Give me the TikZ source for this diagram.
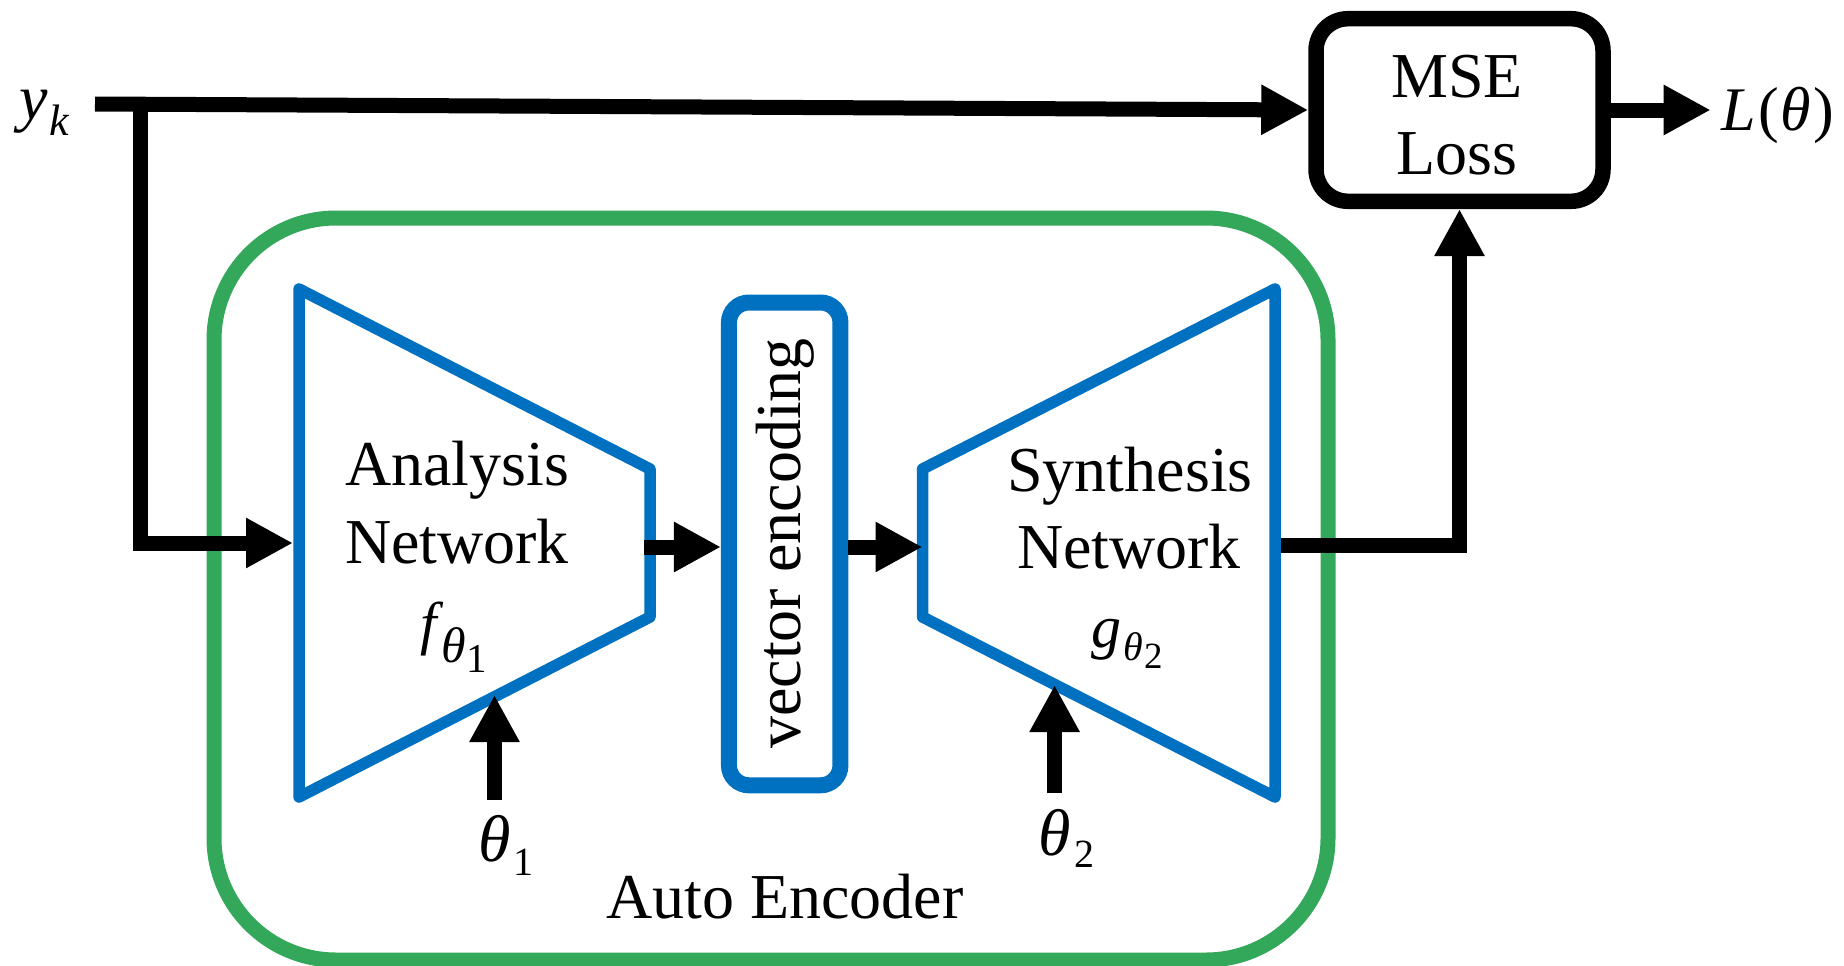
\documentclass[tikz,border=0pt]{standalone}
\usepackage{fontspec}
\setmainfont{Liberation Serif}
\usetikzlibrary{arrows.meta}
\definecolor{aeblue}{RGB}{0,112,192}
\definecolor{aegreen}{RGB}{51,168,90}
\newcommand{\itxt}[2]{{\fontsize{#1}{#1}\selectfont\itshape #2}}
\newcommand{\rtxt}[2]{{\fontsize{#1}{#1}\selectfont #2}}
\newcommand{\lowr}[2]{\raisebox{-#1}{#2}}
\tikzset{
  txt/.style={font=\fontsize{64}{77}\selectfont, inner sep=0pt, anchor=base},
  arr/.style={line width=15pt, line join=miter, -{Triangle[length=47pt,width=47pt]}},
  net/.style={draw=aeblue, line width=11.5pt, line join=round},
}
\begin{document}
\begin{tikzpicture}[x=1pt,y=-1pt]
\useasboundingbox (0,0) rectangle (1844,966);

% Auto encoder frame
\node[draw=aegreen, line width=15pt, rounded corners=122pt,
      minimum width=1114pt, minimum height=742pt, inner sep=0pt] (ae) at (771,589) {};
\node[txt] (aelabel) at (785,918.3) {Auto Encoder};

% Analysis network
\coordinate (A1) at (299,289);
\coordinate (A2) at (650,469);
\coordinate (A3) at (650,617);
\coordinate (A4) at (299,797);
\draw[net] (A1) -- (A2) -- (A3) -- (A4) -- cycle;
\node[txt] (an1) at (457,485) {Analysis};
\node[txt] (an2) at (457,563) {Network};
\node[txt] (an3) at (454,643) {\itxt{59}{f}\kern4pt\lowr{19pt}{\itxt{50}{θ}}\kern1pt\lowr{29pt}{\rtxt{41}{1}}};

% Synthesis network
\coordinate (S1) at (922.5,469);
\coordinate (S2) at (1275,289);
\coordinate (S3) at (1275,797);
\coordinate (S4) at (922.5,617);
\draw[net] (S1) -- (S2) -- (S3) -- (S4) -- cycle;
\node[txt] (sy1) at (1130,491.5) {Synthesis};
\node[txt] (sy2) at (1129,568.3) {Network};
\node[txt] (sy3) at (1127,647) {\itxt{60}{g}\kern2pt\lowr{13pt}{\itxt{40}{θ}}\kern1pt\lowr{21pt}{\rtxt{37}{2}}};

% vector encoding
\node[draw=aeblue, line width=16pt, rounded corners=20pt,
      minimum width=111.5pt, minimum height=482.8pt, inner sep=0pt] (venc) at (784.7,543.9) {};
\node[txt, rotate=90] (venctext) at (800,543.5) {vector encoding};

% MSE loss
\node[draw=black, line width=15.5pt, rounded corners=32pt,
      minimum width=287pt, minimum height=182.6pt, inner sep=0pt] (mse) at (1459.5,110) {};
\node[txt] (mse1) at (1457,97.3) {MSE};
\node[txt] (mse2) at (1457,174) {Loss};

% labels
\node[txt] (yk) at (44,119) {\itxt{64}{y}\kern2pt\lowr{16pt}{\itxt{44}{k}}};
\node[txt] (ltheta) at (1778,130) {\itxt{62}{L}\kern3pt\rtxt{62}{(}\kern1pt\itxt{62}{θ}\kern3pt\rtxt{62}{)}};
\node[txt] (th1) at (506,861) {\itxt{66}{θ}\kern3pt\lowr{14pt}{\rtxt{40}{1}}};
\node[txt] (th2) at (1066.5,855) {\itxt{66}{θ}\kern3pt\lowr{12pt}{\rtxt{40}{2}}};

% connector coordinates
\coordinate (ykstart) at (95,104);
\coordinate (br) at (140.5,104);
\coordinate (brc) at (140.5,543);
\coordinate (ain) at (293,543);
\coordinate (aout) at (644,547);
\coordinate (sin) at (922.5,547);
\coordinate (synout) at (1281,545);
\coordinate (lin) at (1710.7,110);
\coordinate (t1b) at (494.5,800);
\coordinate (t1t) at (494.5,695);
\coordinate (t2b) at (1054.6,793);
\coordinate (t2t) at (1054.6,685);

% connectors
\draw[arr] (ykstart) -- (mse.west);
\draw[arr] (br) -- (brc) -- (ain);
\draw[arr] (aout) -- (aout -| venc.west);
\draw[arr] (venc.east |- aout) -- (sin);
\draw[arr] (synout) -| (mse.south);
\draw[arr] (mse.east) -- (lin);
\draw[arr] (t1b) -- (t1t);
\draw[arr] (t2b) -- (t2t);
\end{tikzpicture}
\end{document}
